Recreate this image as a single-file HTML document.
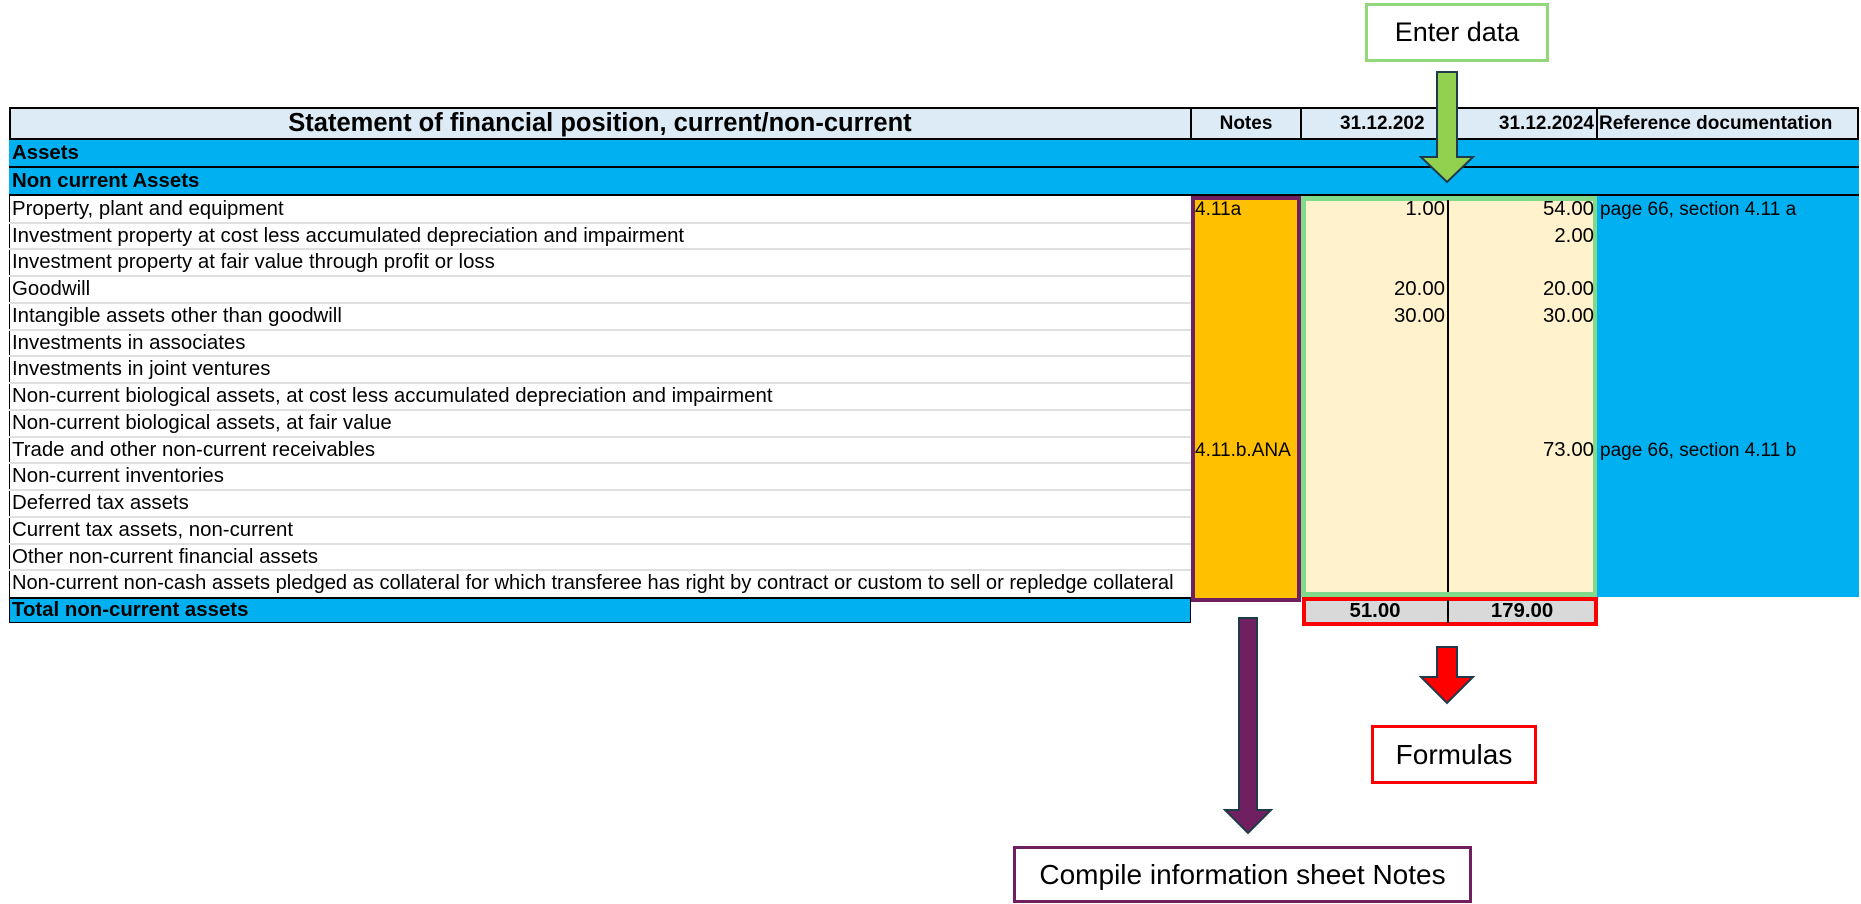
<!DOCTYPE html>
<html><head><meta charset="utf-8"><style>
body{margin:0;width:1861px;height:904px;background:#fff;position:relative;overflow:hidden;font-family:"Liberation Sans",Arial,sans-serif;}
div{position:absolute;box-sizing:border-box;}
.t{white-space:nowrap;font-size:20.4px;line-height:27px;color:#000;}
.r{text-align:right;}
</style></head><body>
<div style="left:9px;top:107px;width:1850px;height:33px;background:#DDEBF7;border:2px solid #000;"></div>
<div class="t" style="left:9px;top:108px;width:1182px;text-align:center;font-weight:bold;font-size:25.5px;line-height:31px;">Statement of financial position, current/non-current</div>
<div style="left:1190px;top:107px;width:2px;height:33px;background:#000"></div>
<div style="left:1300px;top:107px;width:2px;height:33px;background:#000"></div>
<div style="left:1596px;top:107px;width:2px;height:33px;background:#000"></div>
<div class="t" style="left:1192px;top:109px;width:108px;text-align:center;font-weight:bold;font-size:19px;line-height:30px;">Notes</div>
<div class="t" style="left:1302px;top:109px;width:140px;font-weight:bold;font-size:19px;line-height:30px;padding-left:38px;">31.12.202</div>
<div class="t r" style="left:1448px;top:109px;width:146px;font-weight:bold;font-size:19px;line-height:30px;">31.12.2024</div>
<div class="t" style="left:1599px;top:109px;font-weight:bold;font-size:19px;line-height:30px;">Reference documentation</div>
<div style="left:9px;top:140px;width:1850px;height:28px;background:#00B0F0;border-bottom:2px solid #000;"></div>
<div class="t" style="left:12px;top:140px;font-weight:bold;">Assets</div>
<div style="left:9px;top:168px;width:1850px;height:28px;background:#00B0F0;border-bottom:2px solid #000;"></div>
<div class="t" style="left:12px;top:168px;font-weight:bold;">Non current Assets</div>
<div style="left:9px;top:196px;width:1182px;height:401px;background:#fff;border-left:1px solid #000;"></div>
<div style="left:1191px;top:196px;width:110px;height:406px;background:#FFC000;border:4px solid #702060;"></div>
<div style="left:1301px;top:196px;width:297px;height:401px;background:#FFF2CC;border:5px solid #7FDB8A;"></div>
<div style="left:1447px;top:200px;width:2px;height:392px;background:#000"></div>
<div style="left:1597px;top:196px;width:262px;height:401px;background:#00B0F0;"></div>
<div id="rows"></div>
<div style="left:9px;top:597px;width:1182px;height:26px;background:#00B0F0;border-top:2px solid #000;border-left:1px solid #000;border-right:1px solid #000;border-bottom:1px solid #000;"></div>
<div class="t" style="left:12px;top:597px;font-weight:bold;">Total non-current assets</div>
<div style="left:1302px;top:597px;width:296px;height:29px;background:#D9D9D9;border:4px solid #F00;"></div>
<div style="left:1447px;top:600px;width:2px;height:23px;background:#000"></div>
<div class="t" style="left:1302px;top:598px;width:146px;text-align:center;font-weight:bold;">51.00</div>
<div class="t" style="left:1449px;top:598px;width:146px;text-align:center;font-weight:bold;">179.00</div>
<div style="left:1365px;top:3px;width:184px;height:59px;border:3px solid #92D87A;font-size:27px;line-height:53px;text-align:center;">Enter data</div>
<div style="left:1371px;top:725px;width:166px;height:59px;border:3px solid #F00;font-size:28px;line-height:53px;text-align:center;">Formulas</div>
<div style="left:1013px;top:846px;width:459px;height:57px;border:3px solid #702060;font-size:28px;line-height:51px;text-align:center;">Compile information sheet Notes</div>
<svg style="position:absolute;left:0;top:0" width="1861" height="904">
<polygon points="1437,72 1457,72 1457,157 1473,157 1447,182 1421,157 1437,157" fill="#92D050" stroke="#1F3A4A" stroke-width="2"/>
<polygon points="1437,647 1457,647 1457,677 1473,677 1447,703 1421,677 1437,677" fill="#F00" stroke="#1F3A4A" stroke-width="2"/>
<polygon points="1239,618 1257,618 1257,810 1271,810 1248,833 1225,810 1239,810" fill="#702060" stroke="#1F3A4A" stroke-width="2"/>
</svg>
<script>
var L=["Property, plant and equipment","Investment property at cost less accumulated depreciation and impairment","Investment property at fair value through profit or loss","Goodwill","Intangible assets other than goodwill","Investments in associates","Investments in joint ventures","Non-current biological assets, at cost less accumulated depreciation and impairment","Non-current biological assets, at fair value","Trade and other non-current receivables","Non-current inventories","Deferred tax assets","Current tax assets, non-current","Other non-current financial assets","Non-current non-cash assets pledged as collateral for which transferee has right by contract or custom to sell or repledge collateral"];
var N={0:"4.11a",9:"4.11.b.ANA"},A={0:"1.00",3:"20.00",4:"30.00"},B={0:"54.00",1:"2.00",3:"20.00",4:"30.00",9:"73.00"},R={0:"page 66, section 4.11 a",9:"page 66, section 4.11 b"};
var h="",H=401/15;
for(var i=0;i<15;i++){var y=196+i*H;
h+='<div class="t" style="left:12px;top:'+(y)+'px;'+(i==14?'font-size:20.1px;':'')+'">'+L[i]+'</div>';
if(i<14)h+='<div style="left:9px;top:'+(y+H-1)+'px;width:1182px;height:2px;background:#E0E0E0"></div>';
if(N[i])h+='<div class="t" style="left:1195px;top:'+y+'px;font-size:19px">'+N[i]+'</div>';
if(A[i])h+='<div class="t r" style="left:1302px;top:'+y+'px;width:143px">'+A[i]+'</div>';
if(B[i])h+='<div class="t r" style="left:1449px;top:'+y+'px;width:145px">'+B[i]+'</div>';
if(R[i])h+='<div class="t" style="left:1600px;top:'+y+'px;font-size:19px">'+R[i]+'</div>';}
document.getElementById('rows').outerHTML=h;
</script>
</body></html>
